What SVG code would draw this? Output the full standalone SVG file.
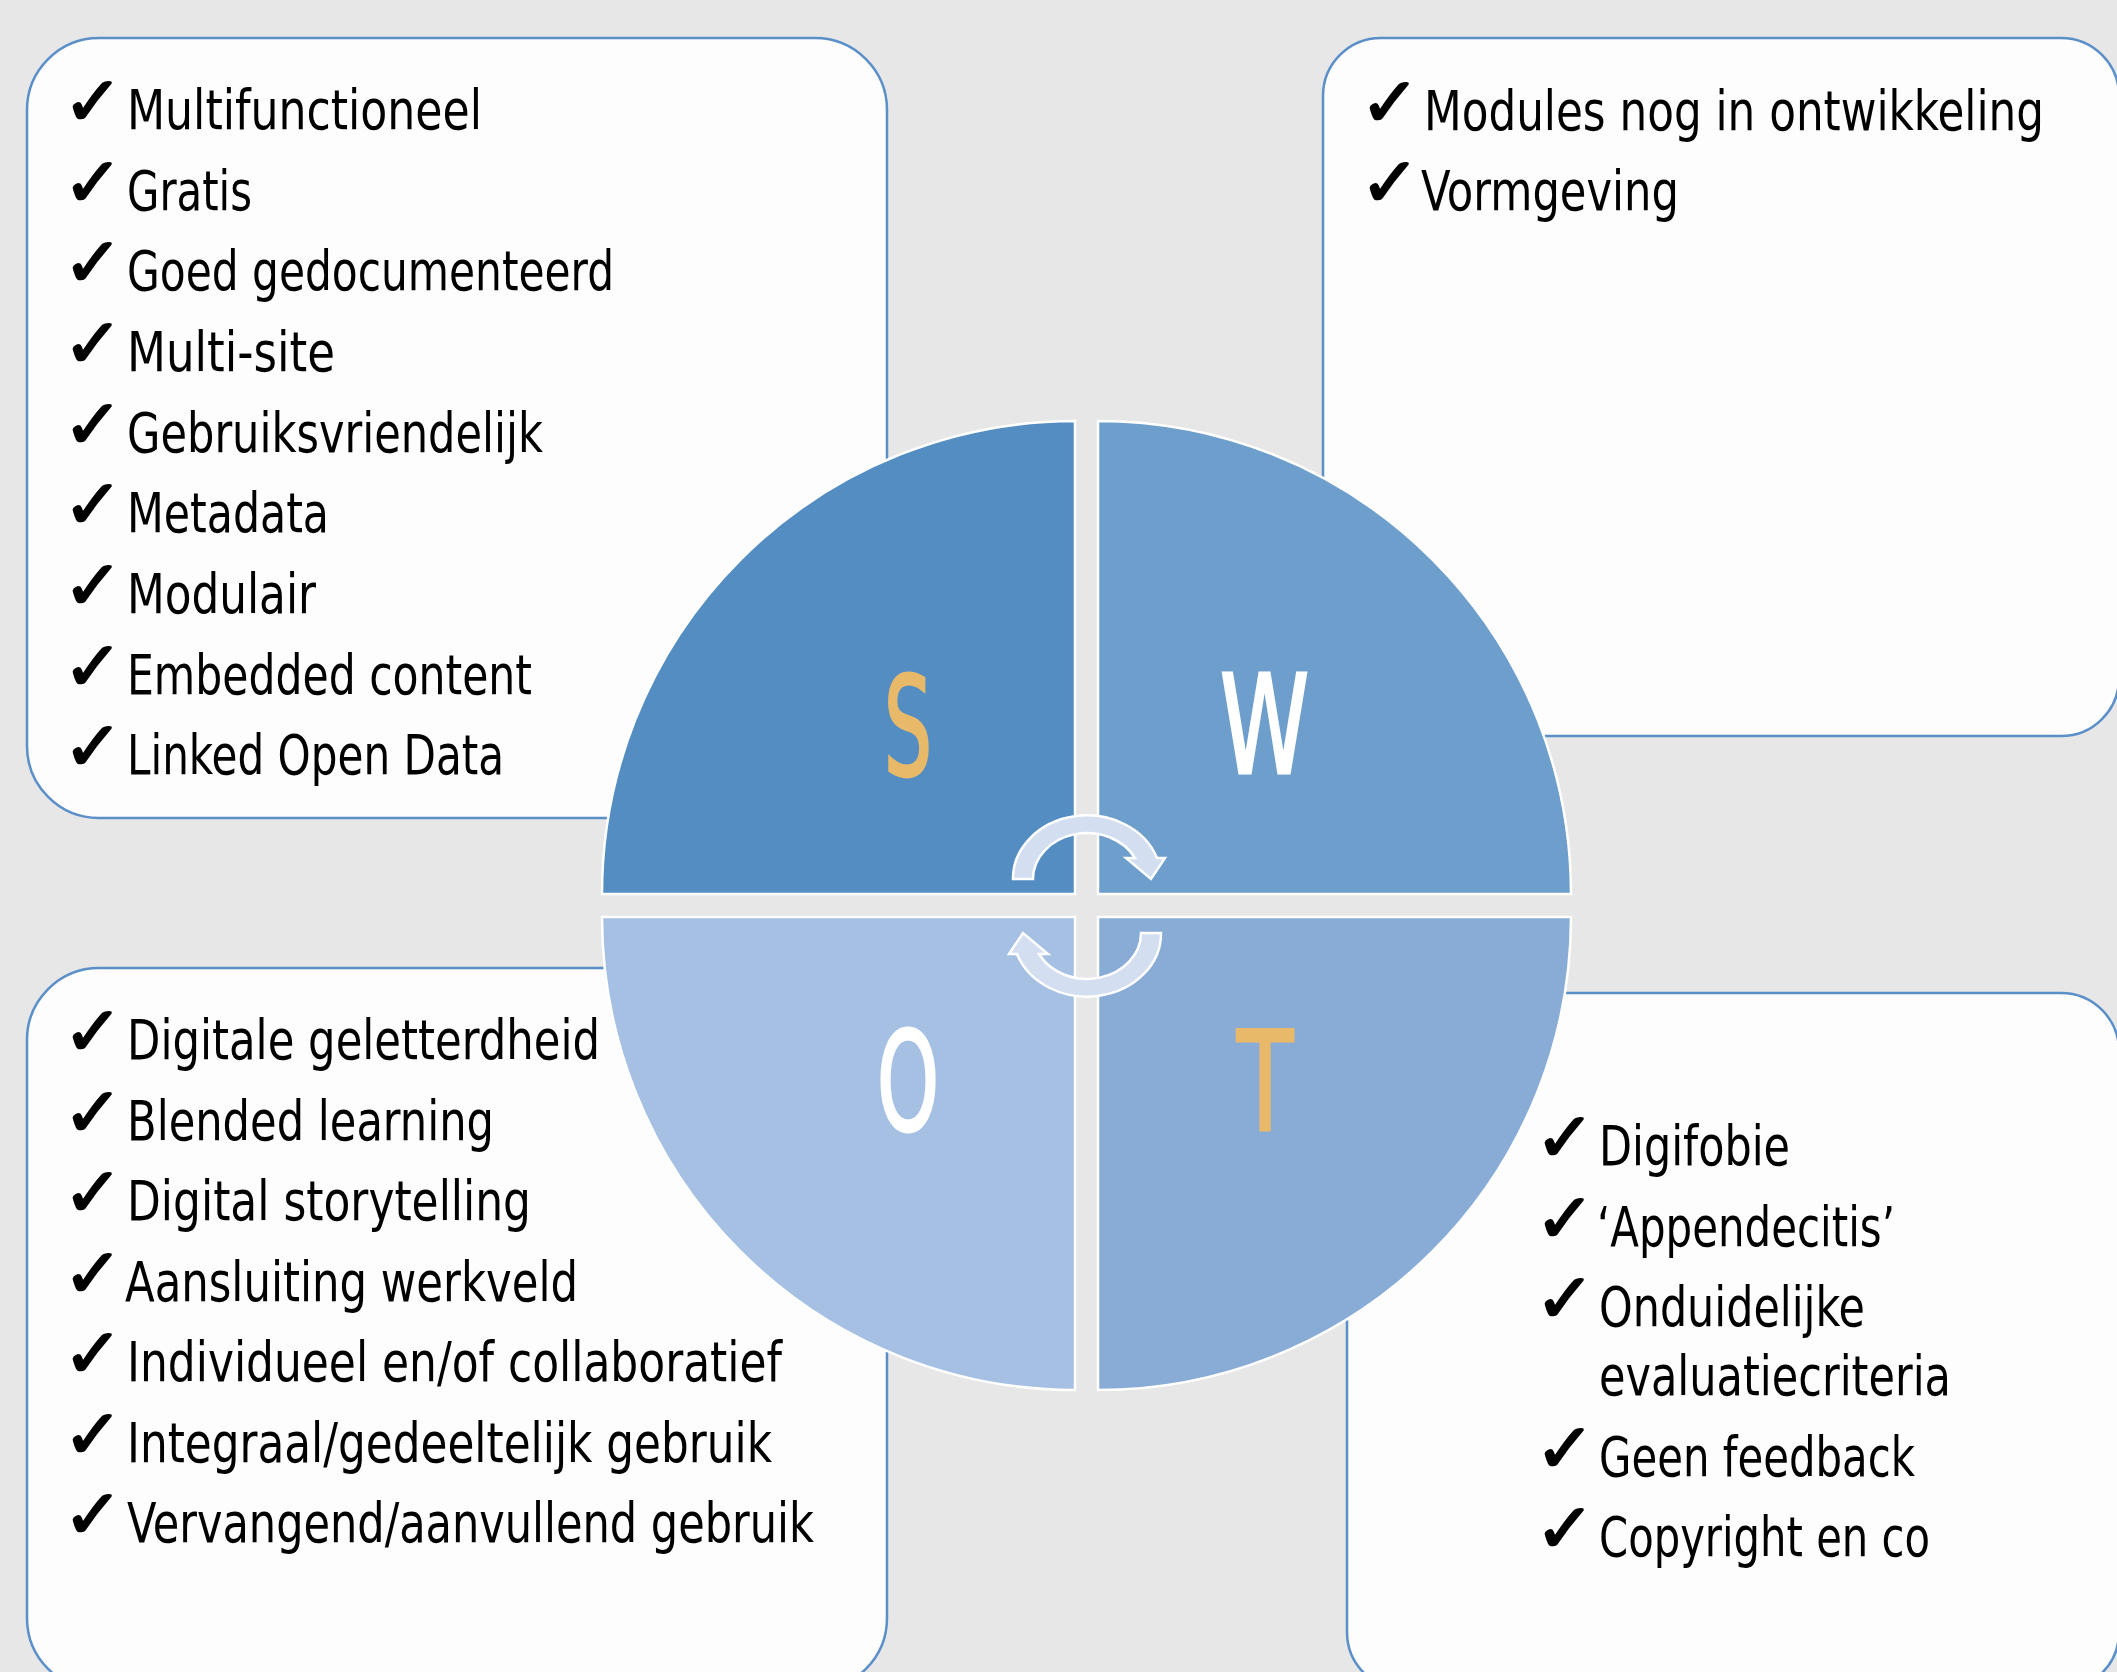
<svg xmlns="http://www.w3.org/2000/svg" width="2117" height="1672" viewBox="0 0 2117 1672">
<style>
.bg{fill:#e7e7e7}
.box{fill:#fdfdfd;stroke:#5a8fc8;stroke-width:2.5}
.t{font-family:"DejaVu Sans Condensed","DejaVu Sans",sans-serif;font-stretch:condensed;font-size:56px;fill:#000}
.ck{font-family:"DejaVu Sans",sans-serif;font-size:68px;fill:#000;stroke:#000;stroke-width:2;stroke-linejoin:round}
.q{stroke:#ffffff;stroke-width:2.5}
.L{font-family:"DejaVu Sans Condensed","DejaVu Sans",sans-serif;font-stretch:condensed;font-size:137px;stroke-width:3}
.arr{fill:#d3dff0;stroke:#ffffff;stroke-width:2.5}
</style>
<rect class="bg" x="0" y="0" width="2117" height="1672"/>

<g id="box-strengths">
<rect class="box" x="27" y="38" width="860" height="780" rx="72" ry="72"/>
<g class="ck"><text x="63" y="125" textLength="60" lengthAdjust="spacingAndGlyphs">✓</text><text x="63" y="206" textLength="60" lengthAdjust="spacingAndGlyphs">✓</text><text x="63" y="286" textLength="60" lengthAdjust="spacingAndGlyphs">✓</text><text x="63" y="367" textLength="60" lengthAdjust="spacingAndGlyphs">✓</text><text x="63" y="448" textLength="60" lengthAdjust="spacingAndGlyphs">✓</text><text x="63" y="528" textLength="60" lengthAdjust="spacingAndGlyphs">✓</text><text x="63" y="609" textLength="60" lengthAdjust="spacingAndGlyphs">✓</text><text x="63" y="690" textLength="60" lengthAdjust="spacingAndGlyphs">✓</text><text x="63" y="770" textLength="60" lengthAdjust="spacingAndGlyphs">✓</text></g>
<text class="t" x="127" y="129" textLength="355" lengthAdjust="spacingAndGlyphs">Multifunctioneel</text>
<text class="t" x="127" y="210" textLength="125" lengthAdjust="spacingAndGlyphs">Gratis</text>
<text class="t" x="127" y="290" textLength="487" lengthAdjust="spacingAndGlyphs">Goed gedocumenteerd</text>
<text class="t" x="127" y="371" textLength="208" lengthAdjust="spacingAndGlyphs">Multi-site</text>
<text class="t" x="127" y="452" textLength="416" lengthAdjust="spacingAndGlyphs">Gebruiksvriendelijk</text>
<text class="t" x="127" y="532" textLength="202" lengthAdjust="spacingAndGlyphs">Metadata</text>
<text class="t" x="127" y="613" textLength="189" lengthAdjust="spacingAndGlyphs">Modulair</text>
<text class="t" x="127" y="694" textLength="405" lengthAdjust="spacingAndGlyphs">Embedded content</text>
<text class="t" x="127" y="774" textLength="377" lengthAdjust="spacingAndGlyphs">Linked Open Data</text>
</g>

<g id="box-weaknesses">
<rect class="box" x="1323" y="38" width="796" height="698" rx="58" ry="58"/>
<g class="ck"><text x="1360" y="126" textLength="60" lengthAdjust="spacingAndGlyphs">✓</text><text x="1360" y="206" textLength="60" lengthAdjust="spacingAndGlyphs">✓</text></g>
<text class="t" x="1424" y="130" textLength="620" lengthAdjust="spacingAndGlyphs">Modules nog in ontwikkeling</text>
<text class="t" x="1421" y="210" textLength="258" lengthAdjust="spacingAndGlyphs">Vormgeving</text>
</g>

<g id="box-opportunities">
<rect class="box" x="27" y="968" width="860" height="722" rx="72" ry="72"/>
<g class="ck"><text x="63" y="1055" textLength="60" lengthAdjust="spacingAndGlyphs">✓</text><text x="63" y="1136" textLength="60" lengthAdjust="spacingAndGlyphs">✓</text><text x="63" y="1216" textLength="60" lengthAdjust="spacingAndGlyphs">✓</text><text x="63" y="1297" textLength="60" lengthAdjust="spacingAndGlyphs">✓</text><text x="63" y="1377" textLength="60" lengthAdjust="spacingAndGlyphs">✓</text><text x="63" y="1458" textLength="60" lengthAdjust="spacingAndGlyphs">✓</text><text x="63" y="1538" textLength="60" lengthAdjust="spacingAndGlyphs">✓</text></g>
<text class="t" x="127" y="1059" textLength="473" lengthAdjust="spacingAndGlyphs">Digitale geletterdheid</text>
<text class="t" x="127" y="1140" textLength="367" lengthAdjust="spacingAndGlyphs">Blended learning</text>
<text class="t" x="127" y="1220" textLength="404" lengthAdjust="spacingAndGlyphs">Digital storytelling</text>
<text class="t" x="125" y="1301" textLength="453" lengthAdjust="spacingAndGlyphs">Aansluiting werkveld</text>
<text class="t" x="127" y="1381" textLength="655" lengthAdjust="spacingAndGlyphs">Individueel en/of collaboratief</text>
<text class="t" x="127" y="1462" textLength="645" lengthAdjust="spacingAndGlyphs">Integraal/gedeeltelijk gebruik</text>
<text class="t" x="127" y="1542" textLength="687" lengthAdjust="spacingAndGlyphs">Vervangend/aanvullend gebruik</text>
</g>

<g id="box-threats">
<rect class="box" x="1347" y="993" width="772" height="697" rx="58" ry="58"/>
<g class="ck"><text x="1535" y="1161" textLength="60" lengthAdjust="spacingAndGlyphs">✓</text><text x="1535" y="1242" textLength="60" lengthAdjust="spacingAndGlyphs">✓</text><text x="1535" y="1322" textLength="60" lengthAdjust="spacingAndGlyphs">✓</text><text x="1535" y="1472" textLength="60" lengthAdjust="spacingAndGlyphs">✓</text><text x="1535" y="1552" textLength="60" lengthAdjust="spacingAndGlyphs">✓</text></g>
<text class="t" x="1599" y="1165" textLength="191" lengthAdjust="spacingAndGlyphs">Digifobie</text>
<text class="t" x="1597" y="1246" textLength="298" lengthAdjust="spacingAndGlyphs">‘Appendecitis’</text>
<text class="t" x="1599" y="1326" textLength="266" lengthAdjust="spacingAndGlyphs">Onduidelijke</text>
<text class="t" x="1599" y="1395" textLength="352" lengthAdjust="spacingAndGlyphs">evaluatiecriteria</text>
<text class="t" x="1599" y="1476" textLength="316" lengthAdjust="spacingAndGlyphs">Geen feedback</text>
<text class="t" x="1599" y="1556" textLength="331" lengthAdjust="spacingAndGlyphs">Copyright en co</text>
</g>

<g id="quadrant-S">
<path class="q" fill="#538dc1" d="M1075 894 L602 894 A473 473 0 0 1 1075 421 Z"/>
<text class="L" x="884" y="775" fill="#e9b96a" stroke="#e9b96a" textLength="48" lengthAdjust="spacingAndGlyphs">S</text>
</g>
<g id="quadrant-W">
<path class="q" fill="#6e9ecc" d="M1098 894 L1098 421 A473 473 0 0 1 1571 894 Z"/>
<text class="L" x="1220" y="773" fill="#ffffff" stroke="#ffffff" textLength="89" lengthAdjust="spacingAndGlyphs">W</text>
</g>
<g id="quadrant-O">
<path class="q" fill="#a5c0e3" d="M1075 917 L1075 1390 A473 473 0 0 1 602 917 Z"/>
<text class="L" x="877" y="1130" fill="#ffffff" stroke="#ffffff" textLength="62" lengthAdjust="spacingAndGlyphs">O</text>
</g>
<g id="quadrant-T">
<path class="q" fill="#88acd6" d="M1098 917 L1571 917 A473 473 0 0 1 1098 1390 Z"/>
<text class="L" x="1237" y="1130" fill="#e9b96a" stroke="#e9b96a" textLength="56" lengthAdjust="spacingAndGlyphs">T</text>
</g>

<g id="connectors">
<path class="arr" d="M1013 879 A74 63 0 0 1 1157 858 L1165 858 L1151 879 L1126 858 L1135 858 A54 46 0 0 0 1033 879 Z"/>
<path class="arr" transform="rotate(180 1087 906)" d="M1013 879 A74 63 0 0 1 1157 858 L1165 858 L1151 879 L1126 858 L1135 858 A54 46 0 0 0 1033 879 Z"/>
</g>
</svg>
